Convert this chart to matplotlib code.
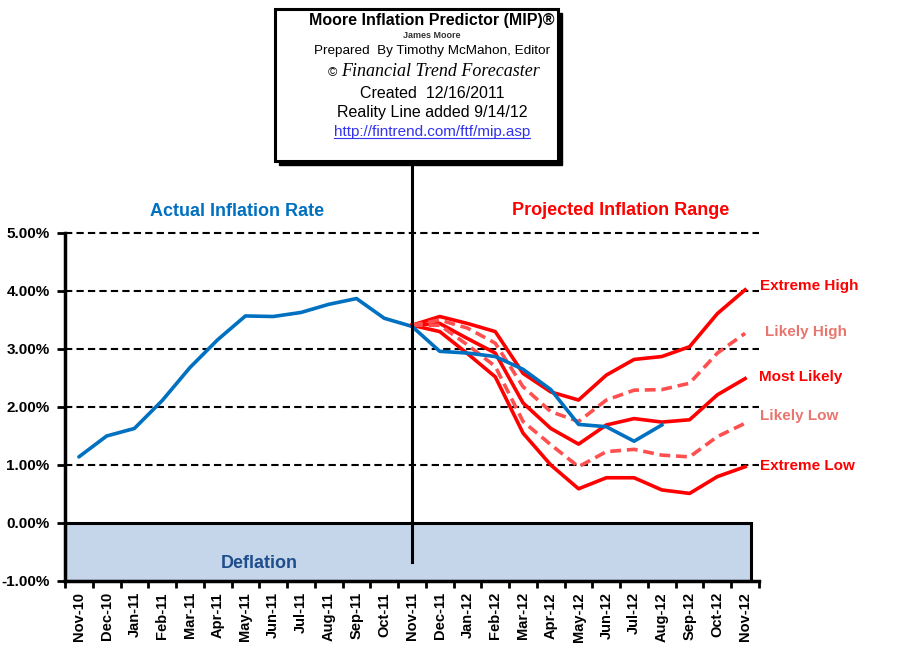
#!/usr/bin/env python3
"""Moore Inflation Predictor chart: actual CPI vs projected range."""

import matplotlib
matplotlib.use('Agg')
import matplotlib.pyplot as plt
import matplotlib.patches as patches
from matplotlib.lines import Line2D

plt.rcParams.update({
    'font.family': ['Liberation Sans', 'DejaVu Sans'],
    'font.size': 10,
    'figure.facecolor': 'white',
    'axes.facecolor': 'white',
})

# Data
months = ['Nov-10', 'Dec-10', 'Jan-11', 'Feb-11', 'Mar-11', 'Apr-11', 'May-11',
          'Jun-11', 'Jul-11', 'Aug-11', 'Sep-11', 'Oct-11', 'Nov-11', 'Dec-11',
          'Jan-12', 'Feb-12', 'Mar-12', 'Apr-12', 'May-12', 'Jun-12', 'Jul-12',
          'Aug-12', 'Sep-12', 'Oct-12', 'Nov-12']

actual = [1.14, 1.50, 1.63, 2.11, 2.68, 3.16, 3.57, 3.56, 3.63, 3.77, 3.87,
          3.53, 3.39]
reality = [3.39, 2.96, 2.93, 2.87, 2.65, 2.30, 1.70, 1.66, 1.41, 1.69]

# projections start at Nov-11
extreme_high = [3.41, 3.56, 3.44, 3.30, 2.58, 2.26, 2.12, 2.55, 2.82, 2.87, 3.04, 3.61, 4.02]
likely_high = [3.41, 3.50, 3.36, 3.10, 2.35, 1.92, 1.75, 2.12, 2.29, 2.30, 2.41, 2.93, 3.27]
most_likely = [3.41, 3.44, 3.18, 2.93, 2.07, 1.63, 1.36, 1.69, 1.80, 1.74, 1.78, 2.21, 2.49]
likely_low = [3.41, 3.41, 3.07, 2.70, 1.75, 1.35, 0.97, 1.23, 1.27, 1.17, 1.14, 1.49, 1.72]
extreme_low = [3.41, 3.30, 2.92, 2.52, 1.55, 1.00, 0.59, 0.78, 0.78, 0.57, 0.51, 0.80, 0.97]

y_ticks = [-1, 0, 1, 2, 3, 4, 5]

BLUE = '#0070c0'
RED = '#ff0000'
RED_DASH = '#ff4f4f'
SALMON = '#e8766e'
DEFL_FILL = '#c5d5ea'
DEFL_TEXT = '#1f4e8c'


def main():
    W, H = 910, 661
    fig = plt.figure(figsize=(W / 100, H / 100), dpi=100)
    ax = fig.add_axes([65 / W, 1 - 581 / H, 694 / W, 348 / H])

    n = len(months)
    x_all = list(range(n))
    start = months.index('Nov-11')
    x_proj = x_all[start:]
    x_real = x_all[start:start + len(reality)]

    ax.set_xlim(-0.5, n - 0.5)
    ax.set_ylim(-1, 5)

    # deflation zone
    ax.add_patch(patches.Rectangle((-0.5, -1), n - 0.3, 1, facecolor=DEFL_FILL,
                                   edgecolor='black', linewidth=2.2, zorder=1))
    ax.text(6.5, -0.7, 'Deflation', ha='center', va='center', fontsize=13,
            fontweight='bold', color=DEFL_TEXT, zorder=2)

    # dashed gridlines
    for v in y_ticks[2:]:
        ax.axhline(v, color='black', lw=1.5, ls=(0, (3.5, 2)), zorder=1,
                   clip_on=False)

    # actual line
    ax.plot(x_all[:start + 1], actual, color=BLUE, lw=2.6, zorder=3,
            solid_capstyle='round')

    # projections
    ax.plot(x_proj, extreme_high, color=RED, lw=2.6, zorder=4)
    ax.plot(x_proj, most_likely, color=RED, lw=2.6, zorder=4)
    ax.plot(x_proj, extreme_low, color=RED, lw=2.6, zorder=4)
    ax.plot(x_proj, likely_high, color=RED_DASH, lw=2.6, ls=(0, (3, 1.6)), zorder=4)
    ax.plot(x_proj, likely_low, color=RED_DASH, lw=2.6, ls=(0, (3, 1.6)), zorder=4)

    # reality line drawn over the projections
    ax.plot(x_real, reality, color=BLUE, lw=2.6, zorder=5)

    # vertical divider at Nov-11
    ax.plot([start, start], [-0.68, 6.25], color='black', lw=2.2, zorder=6,
            clip_on=False)

    # series labels
    lab_x = n - 0.5
    ax.text(lab_x + 0.05, 4.08, 'Extreme High', color=RED, fontsize=11,
            fontweight='bold', va='center', ha='left')
    ax.text(lab_x + 0.2, 3.30, 'Likely High', color=SALMON, fontsize=11,
            fontweight='bold', va='center', ha='left')
    ax.text(lab_x + 0.0, 2.52, 'Most Likely', color=RED, fontsize=11,
            fontweight='bold', va='center', ha='left')
    ax.text(lab_x + 0.05, 1.84, 'Likely Low', color=SALMON, fontsize=11,
            fontweight='bold', va='center', ha='left')
    ax.text(lab_x + 0.05, 0.99, 'Extreme Low', color=RED, fontsize=11,
            fontweight='bold', va='center', ha='left')

    # section headers
    ax.text(5.7, 5.37, 'Actual Inflation Rate', color=BLUE, fontsize=13,
            fontweight='bold', ha='center', va='center')
    ax.text(19.5, 5.39, 'Projected Inflation Range', color=RED, fontsize=13,
            fontweight='bold', ha='center', va='center')

    # axes styling
    for side in ('top', 'right'):
        ax.spines[side].set_visible(False)
    ax.spines['left'].set_linewidth(2.5)
    ax.spines['bottom'].set_linewidth(2.5)
    ax.spines['left'].set_zorder(7)
    ax.spines['bottom'].set_zorder(7)

    ax.set_yticks(y_ticks)
    ax.set_yticklabels([f'{v:.2f}%' for v in y_ticks], fontweight='bold',
                       fontsize=11)
    ax.tick_params(axis='y', direction='out', length=6, width=2, pad=5)

    ax.set_xticks([i - 0.5 for i in range(n + 1)])
    ax.set_xticklabels([])
    ax.set_xticks(x_all, minor=True)
    ax.set_xticklabels(months, minor=True, rotation=90, fontweight='bold',
                       fontsize=10.5)
    ax.tick_params(axis='x', which='major', direction='out', length=5, width=2)
    ax.tick_params(axis='x', which='minor', length=0, pad=8)

    # header box with shadow
    bx, by, bw, bh = 275 / W, 1 - 161 / H, 283 / W, 152 / H
    fig.patches.append(patches.Rectangle((bx + 4 / W, by - 4 / H), bw, bh,
                                         transform=fig.transFigure,
                                         facecolor='black', edgecolor='black',
                                         zorder=8))
    fig.patches.append(patches.Rectangle((bx, by), bw, bh,
                                         transform=fig.transFigure,
                                         facecolor='white', edgecolor='black',
                                         linewidth=2.2, zorder=9))

    cx = 432 / W
    fig.text(cx, 1 - 21 / H, 'Moore Inflation Predictor (MIP)®',
             ha='center', va='center', fontsize=11.5, fontweight='bold',
             zorder=10)
    fig.text(cx, 1 - 36 / H, 'James Moore', ha='center', va='center',
             fontsize=6.5, fontweight='bold', color='#333333', zorder=10)
    fig.text(cx, 1 - 51 / H, 'Prepared  By Timothy McMahon, Editor',
             ha='center', va='center', fontsize=9.7, zorder=10)
    fig.text(332 / W, 1 - 73 / H, '©', ha='center', va='center', fontsize=9,
             zorder=10)
    fig.text(440 / W, 1 - 72 / H, 'Financial Trend Forecaster', ha='center',
             va='center', fontsize=13, style='italic',
             family=['Liberation Serif', 'DejaVu Serif'], zorder=10)
    fig.text(cx, 1 - 93 / H, 'Created  12/16/2011', ha='center', va='center',
             fontsize=11.5, zorder=10)
    fig.text(cx, 1 - 112 / H, 'Reality Line added 9/14/12', ha='center',
             va='center', fontsize=11.5, zorder=10)
    link = fig.text(cx, 1 - 132 / H, 'http://fintrend.com/ftf/mip.asp',
                    ha='center', va='center', fontsize=11, color='#3333ee',
                    zorder=10)

    # underline the link
    fig.canvas.draw()
    bb = link.get_window_extent().transformed(fig.transFigure.inverted())
    fig.lines.append(Line2D([bb.x0, bb.x1], [bb.y0 + 1 / H, bb.y0 + 1 / H],
                            transform=fig.transFigure, color='#3333ee',
                            lw=0.8, zorder=10))

    fig.savefig('out.png', dpi=100, facecolor='white')
    plt.close(fig)


if __name__ == '__main__':
    main()
